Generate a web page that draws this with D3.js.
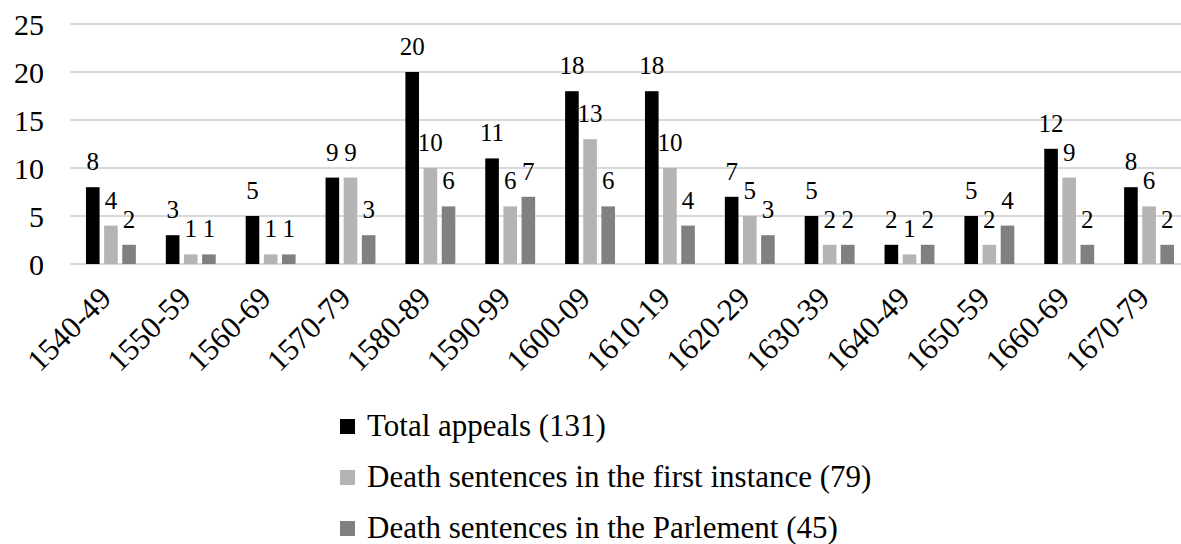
<!DOCTYPE html>
<html>
<head>
<meta charset="utf-8">
<script src="https://cdn.jsdelivr.net/npm/d3@7"></script>
<style>
  body { margin: 0; background: #fff; }
</style>
</head>
<body>
<div id="chart"></div>
<script>
var width = 1181,
    height = 544;

// data
var decades = ["1540-49", "1550-59", "1560-69", "1570-79", "1580-89", "1590-99", "1600-09",
               "1610-19", "1620-29", "1630-39", "1640-49", "1650-59", "1660-69", "1670-79"];
var totalAppeals = [8, 3, 5, 9, 20, 11, 18, 18, 7, 5, 2, 5, 12, 8];
var firstInstance = [4, 1, 1, 9, 10, 6, 13, 10, 5, 2, 1, 2, 9, 6];
var parlement = [2, 1, 1, 3, 6, 7, 6, 4, 3, 2, 2, 4, 2, 2];
var seriesNames = ["Total appeals (131)", "Death sentences in the first instance (79)",
                   "Death sentences in the Parlement (45)"];
var yTicks = [0, 5, 10, 15, 20, 25];

var colors = ["#000000", "#b4b4b4", "#808080"];
var allSeries = [totalAppeals, firstInstance, parlement];

var svg = d3.select("#chart")
    .append("svg")
    .attr("width", width)
    .attr("height", height)
    .attr("font-family", "Liberation Serif");

var x0 = d3.scaleBand()
    .domain(decades)
    .range([70, 1190])
    .paddingInner(0.375)
    .paddingOuter(0.2);

var x1 = d3.scaleBand()
    .domain([0, 1, 2])
    .range([0, x0.bandwidth()])
    .paddingInner(0.25);

var y = d3.scaleLinear()
    .domain([0, 25])
    .range([264, 24]);

// gridlines
svg.append("g")
    .selectAll("line")
    .data(yTicks)
    .enter().append("line")
    .attr("x1", 70)
    .attr("x2", width)
    .attr("y1", function (d) { return y(d); })
    .attr("y2", function (d) { return y(d); })
    .style("stroke", "#d9d9d9")
    .style("stroke-width", 2);

// y tick labels
svg.append("g")
    .selectAll("text")
    .data(yTicks)
    .enter().append("text")
    .attr("x", 44)
    .attr("y", function (d) { return y(d); })
    .attr("dy", "0.35em")
    .attr("text-anchor", "end")
    .attr("font-family", "Liberation Serif")
    .attr("font-size", 30)
    .text(function (d) { return d; });

// bars
var groups = svg.append("g")
    .selectAll("g")
    .data(decades)
    .enter().append("g")
    .attr("transform", function (d) { return "translate(" + x0(d) + ",0)"; });

groups.selectAll("rect")
    .data(function (d, i) {
        return allSeries.map(function (s, k) { return { k: k, v: s[i] }; });
    })
    .enter().append("rect")
    .attr("x", function (d) { return x1(d.k); })
    .attr("width", x1.bandwidth())
    .attr("y", function (d) { return y(d.v); })
    .attr("height", function (d) { return y(0) - y(d.v); })
    .style("fill", function (d) { return colors[d.k]; });

groups.selectAll("text")
    .data(function (d, i) {
        return allSeries.map(function (s, k) { return { k: k, v: s[i] }; });
    })
    .enter().append("text")
    .attr("x", function (d) { return x1(d.k) + x1.bandwidth() / 2; })
    .attr("y", function (d) { return y(d.v) - 17; })
    .attr("text-anchor", "middle")
    .attr("font-family", "Liberation Serif")
    .attr("font-size", 25)
    .text(function (d) { return d.v; });

// category labels, rotated
svg.append("g")
    .selectAll("text")
    .data(decades)
    .enter().append("text")
    .attr("transform", function (d) {
        return "translate(" + (x0(d) + x0.bandwidth() / 2 + 2) + ",300) rotate(-45)";
    })
    .attr("text-anchor", "end")
    .attr("font-family", "Liberation Serif")
    .attr("font-size", 31)
    .text(function (d) { return d; });

// legend
var legend = svg.append("g")
    .selectAll("g")
    .data(seriesNames)
    .enter().append("g")
    .attr("transform", function (d, i) { return "translate(340," + (419 + i * 51) + ")"; });

legend.append("rect")
    .attr("width", 15)
    .attr("height", 15)
    .style("fill", function (d, i) { return colors[i]; });

legend.append("text")
    .attr("x", 27)
    .attr("y", 17)
    .attr("font-family", "Liberation Serif")
    .attr("font-size", 31)
    .text(function (d) { return d; });
</script>
</body>
</html>
